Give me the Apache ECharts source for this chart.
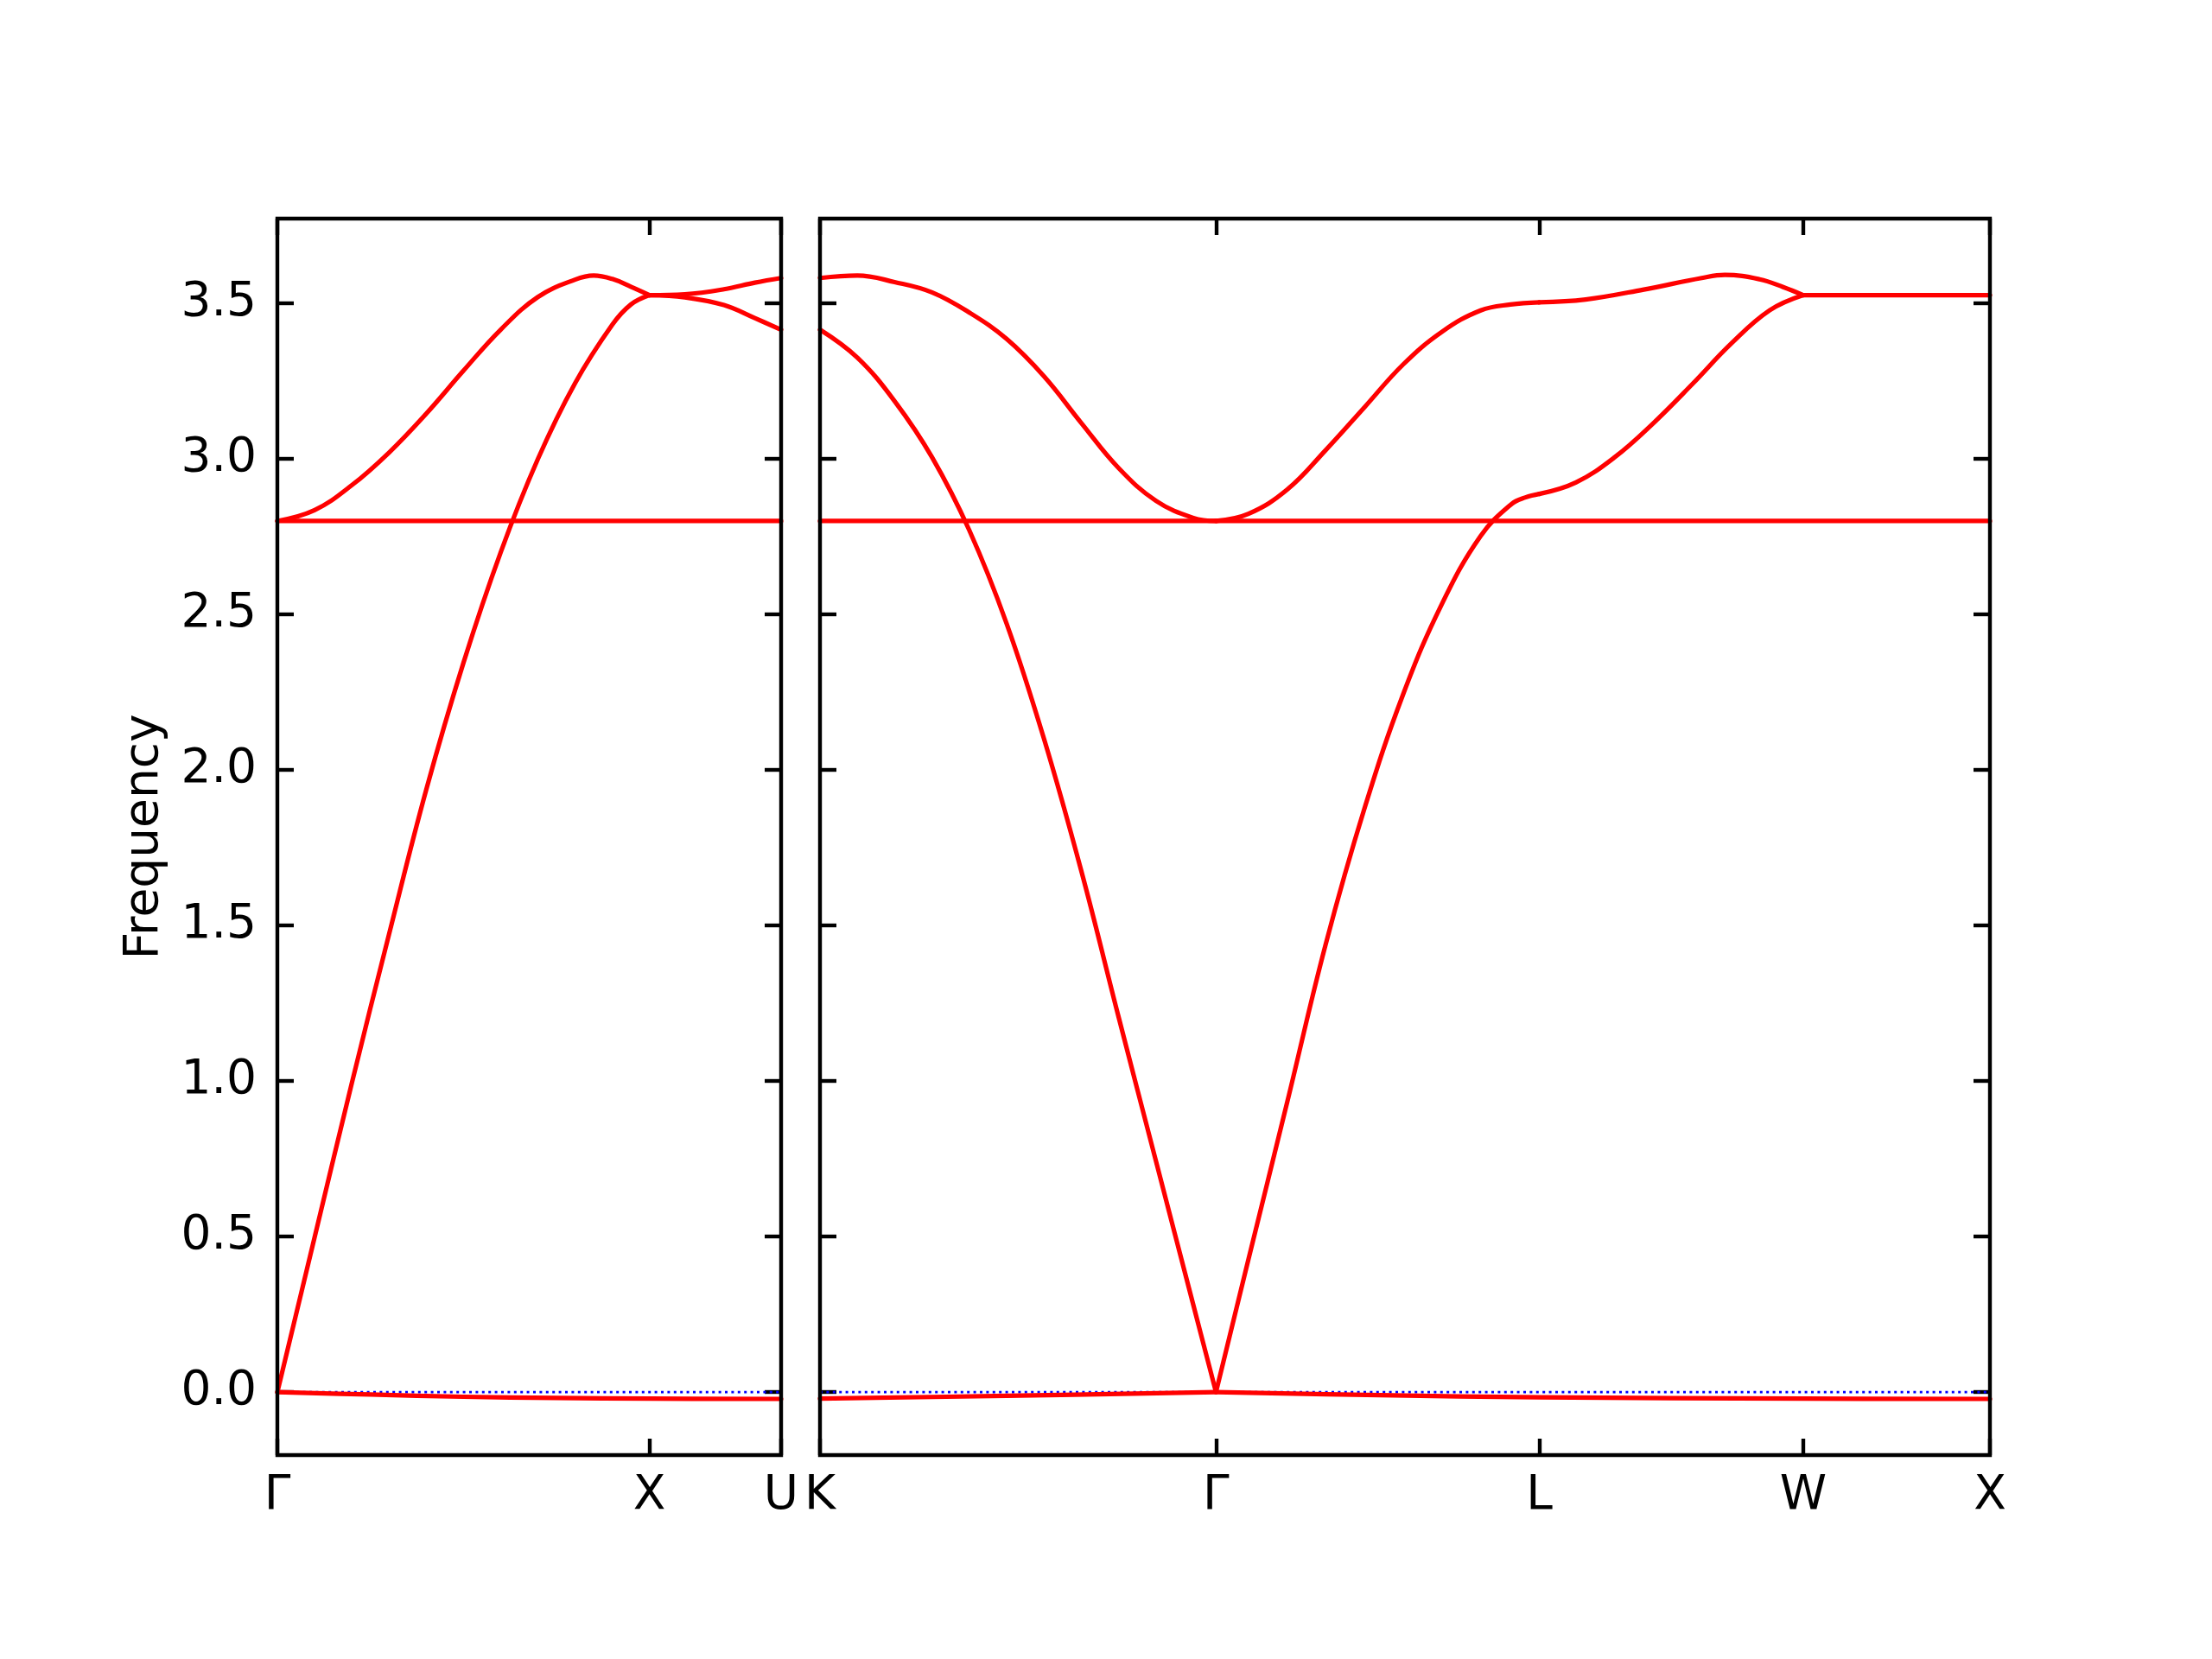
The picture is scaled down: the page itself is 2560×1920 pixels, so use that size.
<!DOCTYPE html>
<html>
<head>
<meta charset="utf-8">
<script src="https://cdn.jsdelivr.net/npm/echarts@6/dist/echarts.min.js"></script>
<style>
html,body{margin:0;padding:0;background:#fff;}
#chart{width:2560px;height:1920px;}
</style>
</head>
<body>
<div id="chart"></div>
<script>
// ---- axis data ----
const Y_MIN = -0.2025, Y_MAX = 3.772;
const Y_TICKS = [0, 0.5, 1, 1.5, 2, 2.5, 3, 3.5];
const LEFT_TICK_POS = [0, 1, 1.3536];
const LEFT_TICK_LABELS = ['Γ', 'X', 'U'];
const RIGHT_TICK_POS = [0, 1.0607, 1.9267, 2.6338, 3.1338];
const RIGHT_TICK_LABELS = ['K', 'Γ', 'L', 'W', 'X'];
const Y_NAME = 'Frequency';

// ---- left panel bands: Γ–X–U ----
const gxUpper = [[0,2.8],[0.1,2.835],[0.2,2.915],[0.3,3.02],[0.4,3.145],[0.5,3.283],[0.6,3.415],[0.7,3.52],[0.8,3.576],[0.85,3.589],[0.9,3.578],[0.95,3.553],[1,3.526]];
const gxAcoustic = [[0,0],[0.1,0.497],[0.2,0.993],[0.3,1.471],[0.4,1.936],[0.5,2.344],[0.6,2.699],[0.7,2.999],[0.8,3.243],[0.9,3.431],[0.95,3.496],[1,3.526]];
const xuUpper = [[1,3.526],[1.095,3.529],[1.2,3.545],[1.283,3.566],[1.3536,3.581]];
const xuLower = [[1,3.526],[1.095,3.519],[1.2,3.494],[1.283,3.452],[1.3536,3.415]];
const leftFlat = [[0,2.8],[1,2.8],[1.3536,2.8]];
const leftZero = [[0,0],[0.25,-0.008],[0.5,-0.015],[0.75,-0.019],[1,-0.021],[1.3536,-0.022]];

// ---- right panel bands: K–Γ–L–W–X ----
const kgUpper = [[0,3.581],[0.1,3.589],[0.2,3.568],[0.3,3.535],[0.4,3.47],[0.5,3.385],[0.6,3.265],[0.7,3.115],[0.8,2.97],[0.9,2.865],[1.0,2.81],[1.0607,2.8]];
const kgLower = [[0,3.415],[0.1,3.325],[0.2,3.185],[0.3,3.005],[0.4,2.77],[0.5,2.47],[0.6,2.10],[0.7,1.675],[0.8,1.205],[0.9,0.742],[1.0,0.28],[1.0607,0]];
const glLower = [[1.0607,0],[1.1477,0.427],[1.2517,0.933],[1.3547,1.44],[1.4587,1.877],[1.5627,2.245],[1.6657,2.533],[1.7697,2.752],[1.8527,2.855],[1.89,2.876],[1.9267,2.887]];
const glUpper = [[1.0607,2.8],[1.1477,2.823],[1.2517,2.901],[1.3547,3.028],[1.4587,3.166],[1.5627,3.304],[1.6657,3.408],[1.7697,3.477],[1.85,3.496],[1.9267,3.503]];
const lwUpper = [[1.9267,3.503],[2.0507,3.512],[2.2067,3.544],[2.3617,3.581],[2.4237,3.591],[2.5167,3.577],[2.58,3.552],[2.6338,3.526]];
const lwLower = [[1.9267,2.887],[2.0247,2.924],[2.1287,3.005],[2.2327,3.115],[2.3367,3.24],[2.4407,3.37],[2.5437,3.477],[2.6338,3.526]];
const wxUpper = [[2.6338,3.526],[3.1338,3.526]];
const rightFlat = [[0,2.8],[1.0607,2.8],[3.1338,2.8]];
const kgZero = [[0,-0.021],[0.5,-0.012],[1.0607,0]];
const gxRightZero = [[1.0607,0],[1.5,-0.01],[1.9267,-0.017],[2.6338,-0.021],[3.1338,-0.022]];

const FONT = 'DejaVu Sans';
const FS = 55;
const BLACK = '#000';

function nearestLabel(v, pos, labels) {
  let bi = 0, bd = Infinity;
  pos.forEach((p, i) => { const d = Math.abs(p - v); if (d < bd) { bd = d; bi = i; } });
  return labels[bi];
}

function xAxisDef(grid, maxV, pos, labels, position, showLabels) {
  return {
    type: 'value', gridIndex: grid, position: position, min: 0, max: maxV,
    axisLine: { show: false, onZero: false },
    splitLine: { show: false },
    axisTick: { show: true, inside: true, length: 19, customValues: pos, lineStyle: { color: BLACK, width: 4.4 } },
    axisLabel: {
      show: showLabels, customValues: pos, margin: 20, hideOverlap: false,
      showMinLabel: true, showMaxLabel: true,
      fontFamily: FONT, fontSize: FS, color: BLACK,
      formatter: (v) => nearestLabel(v, pos, labels)
    }
  };
}
function yAxisDef(grid, position, showLabels, name) {
  const a = {
    type: 'value', gridIndex: grid, position: position, min: Y_MIN, max: Y_MAX,
    axisLine: { show: false, onZero: false },
    splitLine: { show: false },
    axisTick: { show: true, inside: true, length: 19, customValues: Y_TICKS, lineStyle: { color: BLACK, width: 4.4 } },
    axisLabel: {
      show: showLabels, customValues: Y_TICKS, margin: 24,
      fontFamily: FONT, fontSize: FS, color: BLACK,
      formatter: (v) => v.toFixed(1)
    }
  };
  if (name) {
    a.name = name; a.nameLocation = 'middle'; a.nameGap = 126;
    a.nameTextStyle = { fontFamily: FONT, fontSize: FS, color: BLACK };
  }
  return a;
}

function band(data, g) {
  return {
    type: 'line', xAxisIndex: g * 2, yAxisIndex: g * 2, data: data,
    showSymbol: false, symbol: 'none', smooth: data.length > 2 ? 0.4 : false,
    silent: true, z: 3,
    lineStyle: { color: '#ff0000', width: 5.2, cap: 'round', join: 'round' }
  };
}
function zeroLine(g, maxV) {
  return {
    type: 'line', xAxisIndex: g * 2, yAxisIndex: g * 2, data: [[0, 0], [maxV, 0]],
    showSymbol: false, symbol: 'none', silent: true, z: 2,
    lineStyle: { color: '#0000ff', width: 2.6, type: [3, 4.4] }
  };
}

const leftBands = [leftZero, leftFlat, gxUpper, gxAcoustic, xuUpper, xuLower];
const rightBands = [kgZero, gxRightZero, rightFlat, kgUpper, kgLower, glLower, glUpper, lwUpper, lwLower, wxUpper];
const LMAX = LEFT_TICK_POS[LEFT_TICK_POS.length - 1];
const RMAX = RIGHT_TICK_POS[RIGHT_TICK_POS.length - 1];

const option = {
  backgroundColor: '#ffffff',
  animation: false,
  grid: [
    { left: 321, top: 253, width: 583, height: 1431, show: true, borderColor: BLACK, borderWidth: 4.4, backgroundColor: 'transparent', z: 5 },
    { left: 949, top: 253, width: 1354, height: 1431, show: true, borderColor: BLACK, borderWidth: 4.4, backgroundColor: 'transparent', z: 5 }
  ],
  xAxis: [
    xAxisDef(0, LMAX, LEFT_TICK_POS, LEFT_TICK_LABELS, 'bottom', true),
    xAxisDef(0, LMAX, LEFT_TICK_POS, LEFT_TICK_LABELS, 'top', false),
    xAxisDef(1, RMAX, RIGHT_TICK_POS, RIGHT_TICK_LABELS, 'bottom', true),
    xAxisDef(1, RMAX, RIGHT_TICK_POS, RIGHT_TICK_LABELS, 'top', false)
  ],
  yAxis: [
    yAxisDef(0, 'left', true, Y_NAME),
    yAxisDef(0, 'right', false),
    yAxisDef(1, 'left', false),
    yAxisDef(1, 'right', false)
  ],
  series: [zeroLine(0, LMAX), zeroLine(1, RMAX)]
    .concat(leftBands.map(d => band(d, 0)))
    .concat(rightBands.map(d => band(d, 1)))
};

const chart = echarts.init(document.getElementById('chart'), null, { renderer: 'canvas', width: 2560, height: 1920 });
chart.setOption(option);
</script>
</body>
</html>
